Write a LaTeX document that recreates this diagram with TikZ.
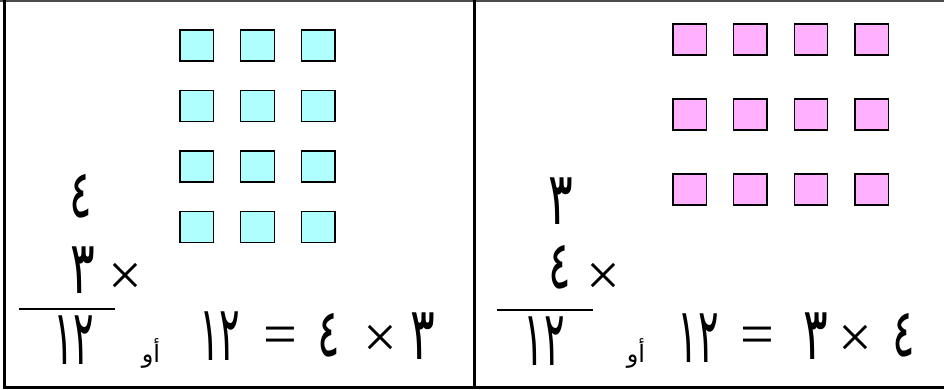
\documentclass[tikz,border=0pt]{standalone}
\usepackage{fontspec}
\setmainfont{Liberation Serif}
\newfontfamily\arabicfont[Script=Arabic]{DejaVu Sans}
\TeXXeTstate=1
\definecolor{sqcyan}{HTML}{B0FFFF}
\definecolor{sqpink}{HTML}{FFB0FF}
\newcommand{\tallone}[1]{\scalebox{0.72}[1.15]{#1}}
\newcommand{\tallfour}[1]{\scalebox{0.66}[1.05]{#1}}
\newcommand{\talltwo}[1]{\scalebox{0.6}[1.2]{#1}}
\begin{document}
\begin{tikzpicture}[x=1pt,y=-1pt,
  cyanbox/.style={draw=black,line width=1.4pt,fill=sqcyan},
  pinkbox/.style={draw=black,line width=1.4pt,fill=sqpink},
  frameline/.style={draw=black,line width=3pt},
  digit/.style={inner sep=0pt,font=\arabicfont\fontsize{64}{64}\selectfont},
  smallword/.style={inner sep=0pt,font=\arabicfont\fontsize{24}{24}\selectfont},
  opsym/.style={inner sep=0pt,font=\fontsize{60}{60}\selectfont}]
\useasboundingbox (0,0) rectangle (944,390);
% frame
\draw[black!70,line width=2pt] (0,1) -- (944,1);
\draw[frameline] (4.7,0) -- (4.7,387.5) -- (944,387.5);
\draw[frameline] (474,0) -- (474,387.5);
% cyan squares
\foreach \c in {0,1,2}{
  \foreach \r in {0,1,2,3}{
    \path[cyanbox] (180+60.7*\c,30+60.5*\r) rectangle +(33.5,31);
  }
}
% pink squares
\foreach \c in {0,1,2,3}{
  \foreach \r in {0,1,2}{
    \path[pinkbox] (673+60.6*\c,24+75*\r) rectangle +(33.5,31);
  }
}
% left panel
\node[digit] (la) at (81,196) {\tallfour{٤}};
\node[digit] (lb) at (83,270) {\tallone{٣}};
\node[opsym] (lx) at (125,279) {×};
\draw[line width=1.5pt] (19,309) -- (115,309);
\node[digit] (lc) at (74,340) {\talltwo{١٢}};
\node[smallword] (lo) at (151,353) {\beginR أو\endR};
\node[digit] (ld) at (220,336) {\talltwo{١٢}};
\node[opsym] (le) at (280,341) {=};
\node[digit] (lf) at (329,335) {\tallfour{٤}};
\node[opsym] (lg) at (380,341) {×};
\node[digit] (lh) at (423,336) {\tallone{٣}};
% right panel
\node[digit] (ra) at (561,201) {\tallone{٣}};
\node[digit] (rb) at (560,267) {\tallfour{٤}};
\node[opsym] (rx) at (603,279) {×};
\draw[line width=1.5pt] (497,310) -- (593,310);
\node[digit] (rc) at (544,341) {\talltwo{١٢}};
\node[smallword] (ro) at (636,353) {\beginR أو\endR};
\node[digit] (rd) at (698,338) {\talltwo{١٢}};
\node[opsym] (re) at (757,341) {=};
\node[digit] (rf) at (816,336) {\tallone{٣}};
\node[opsym] (rg) at (855,341) {×};
\node[digit] (rh) at (904,335) {\tallfour{٤}};
\end{tikzpicture}
\end{document}
